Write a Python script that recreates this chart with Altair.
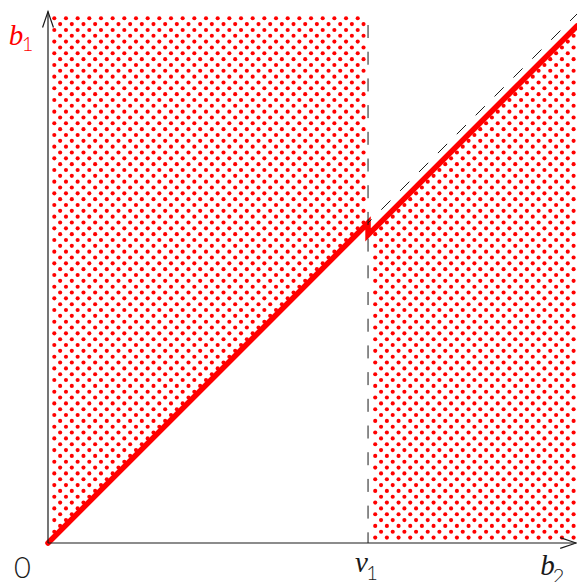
import altair as alt
import numpy as np
import pandas as pd

# Key values (both axes share the same unit scale)
V1 = 0.605          # position of v1 on the b2 axis
DROP = 0.0227       # downward jump of the bid curve at v1
TOP = 0.9924        # upper edge of the shaded region
X_TIP = 0.9985      # tip of the b2 axis arrow
Y_TIP = 1.0047      # tip of the b1 axis arrow

# Red bid curve b1(b2): the diagonal up to v1, then shifted down by DROP
curve_x = [0.0, V1, V1, 1.0]
curve_y = [0.0, V1, V1 - DROP, 1.0 - DROP]
curve_order = [0, 1, 2, 3]

# Dashed guides: vertical at v1 and the continuation of the diagonal
guide_v_x = [V1]
guide_v_y = [TOP]
guide_v_y2 = [0.0]
guide_d_x = [V1]
guide_d_y = [V1]
guide_d_x2 = [1.0]
guide_d_y2 = [1.0]

# Axis labels
label_text = ["0", "v", "1", "b", "2", "b", "1"]
label_x = [0.0, V1, V1, 1.0, 1.0, 0.0, 0.0]
label_y = [0.0, 0.0, 0.0, 0.0, 0.0, 1.0, 1.0]

# Dot-stipple texture filling the shaded regions (hexagonal grid)
DX = 0.02206
DY = 0.01103
X0 = 0.0119
Y0 = 0.9919
jj, ii = np.meshgrid(np.arange(92), np.arange(48), indexing="ij")
gx = (X0 + (ii + 0.5 * (jj % 2)) * DX).ravel()
gy = (Y0 - jj * DY).ravel()
left = (gx <= V1 - 0.002) & (gy > gx)
right = (gx >= V1 + 0.009) & (gx <= 1.0) & (gy < gx - DROP) & (gy > 0.005)
dots = pd.DataFrame({"x": gx[left | right], "y": gy[left | right]})

xs = alt.Scale(domain=[0, 1], nice=False, zero=False)
ys = alt.Scale(domain=[0, 1], nice=False, zero=False)
X = lambda f: alt.X(f, type="quantitative", scale=xs, axis=None)
Y = lambda f: alt.Y(f, type="quantitative", scale=ys, axis=None)

RED = "#ff0000"
INK = "#1a1a1a"

dot_layer = alt.Chart(dots).mark_circle(color=RED, size=17, opacity=1).encode(
    x=X("x"), y=Y("y")
)

curve = alt.Chart(
    pd.DataFrame({"x": curve_x, "y": curve_y, "o": curve_order})
).mark_line(color=RED, strokeWidth=5.5, strokeCap="round", strokeJoin="miter").encode(
    x=X("x"), y=Y("y"), order="o:Q"
)

guide_v = alt.Chart(
    pd.DataFrame({"x": guide_v_x, "y": guide_v_y, "y2": guide_v_y2})
).mark_rule(color=INK, strokeWidth=1, strokeDash=[13, 13.7], strokeDashOffset=19.7).encode(
    x=X("x"), y=Y("y"), y2="y2"
)

guide_d = alt.Chart(
    pd.DataFrame({"x": guide_d_x, "y": guide_d_y, "x2": guide_d_x2, "y2": guide_d_y2})
).mark_rule(color=INK, strokeWidth=1, strokeDash=[13, 13.7], strokeDashOffset=8).encode(
    x=X("x"), y=Y("y"), x2="x2", y2="y2"
)

axes = alt.Chart(
    pd.DataFrame({"x": [0.0, 0.0], "y": [0.0, 0.0], "x2": [X_TIP, 0.0], "y2": [0.0, Y_TIP]})
).mark_rule(color=INK, strokeWidth=1.2).encode(
    x=X("x"), y=Y("y"), x2="x2", y2="y2"
)

ARROW = "M -1 -0.34 L 0 0 L -1 0.34"
arrows = alt.Chart(
    pd.DataFrame({"x": [X_TIP, 0.0], "y": [0.0, Y_TIP], "a": [0, 270]})
).mark_point(shape=ARROW, size=1024, filled=False, color=INK, strokeWidth=1.2, opacity=1).encode(
    x=X("x"), y=Y("y"), angle=alt.Angle("a:Q", scale=None)
)

lab = pd.DataFrame({"t": label_text, "x": label_x, "y": label_y})


def text_layer(idx, font, size, style, color, dx, dy, weight="normal"):
    return alt.Chart(lab.iloc[[idx]]).mark_text(
        font=font, fontSize=size, fontStyle=style, fontWeight=weight, color=color,
        align="center", baseline="alphabetic", dx=dx, dy=dy,
    ).encode(x=X("x"), y=Y("y"), text="t:N")


SERIF = "Liberation Serif"
SANS = "Lato"
labels = [
    text_layer(0, SANS, 29, "normal", INK, -25.5, 35, 300),
    text_layer(1, SERIF, 29, "italic", INK, -6.5, 29),
    text_layer(2, SANS, 20, "normal", INK, 4, 37, 300),
    text_layer(3, SERIF, 29, "italic", INK, -29.5, 32),
    text_layer(4, SANS, 20, "normal", INK, -18.5, 40, 300),
    text_layer(5, SERIF, 29, "italic", RED, -32, 31),
    text_layer(6, SANS, 20, "normal", RED, -20.5, 37, 300),
]

chart = alt.layer(
    dot_layer, curve, guide_v, guide_d, axes, arrows, *labels
).properties(
    width=529,
    height=529,
    autosize=alt.AutoSizeParams(type="none"),
    padding={"left": 48, "top": 14, "right": 0, "bottom": 39},
).configure_view(stroke=None)

chart.save("out.html", embed_options={"renderer": "svg", "actions": False})
